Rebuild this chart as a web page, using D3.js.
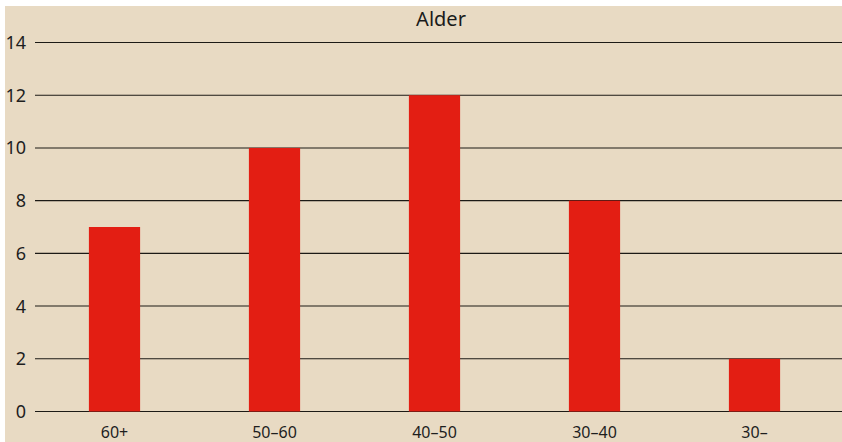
<!DOCTYPE html>
<html lang="da">
<head>
    <meta charset="UTF-8">
    <title>Alder</title>
    <script src="https://d3js.org/d3.v7.min.js"></script>
    <style>
        body { margin: 0; background: #fff; font-family: "Noto Sans", sans-serif; }
        svg { display: block; }
    </style>
</head>
<body>
    <svg width="842" height="442"></svg>
    <script>
        const categories = ["60+", "50–60", "40–50", "30–40", "30–"];
        const values = [7, 10, 12, 8, 2];
        const yTicks = [0, 2, 4, 6, 8, 10, 12, 14];
        const title = "Alder";

        const width = 842, height = 442;
        const svg = d3.select("svg");

        // beige panel, leaves a thin white border top/left
        svg.append("rect")
            .attr("x", 5).attr("y", 6)
            .attr("width", width - 5).attr("height", height - 6)
            .attr("fill", "#e8dac3");

        const x = d3.scaleBand().domain(categories).range([34.5, 834.5]).paddingInner(0.68).paddingOuter(0.34);
        const y = d3.scaleLinear().domain([0, 14]).range([411.5, 42.5]);

        // gridlines
        svg.append("g")
            .selectAll("line")
            .data(yTicks)
            .join("line")
            .attr("x1", 35).attr("x2", width)
            .attr("y1", d => y(d)).attr("y2", d => y(d))
            .attr("stroke", "#1c1a16")
            .attr("stroke-width", 1.1);

        // y tick labels
        svg.append("g")
            .selectAll("text")
            .data(yTicks)
            .join("text")
            .attr("x", 26)
            .attr("y", d => y(d))
            .attr("dy", "0.36em")
            .attr("text-anchor", "end")
            .attr("font-size", 18)
            .attr("fill", "#1e1e1e")
            .text(d => d);

        // bars
        svg.append("g")
            .selectAll("rect")
            .data(values)
            .join("rect")
            .attr("x", (d, i) => x(categories[i]))
            .attr("width", x.bandwidth())
            .attr("y", d => y(d))
            .attr("height", d => y(0) - y(d))
            .attr("fill", "#e31e13");

        // x labels
        svg.append("g")
            .selectAll("text")
            .data(categories)
            .join("text")
            .attr("x", d => x(d) + x.bandwidth() / 2)
            .attr("y", 437.5)
            .attr("text-anchor", "middle")
            .attr("font-size", 16)
            .attr("fill", "#1e1e1e")
            .text(d => d);

        svg.append("text")
            .attr("x", 441)
            .attr("y", 26)
            .attr("text-anchor", "middle")
            .attr("font-size", 20)
            .attr("fill", "#1a1a1a")
            .text(title);
    </script>
</body>
</html>
